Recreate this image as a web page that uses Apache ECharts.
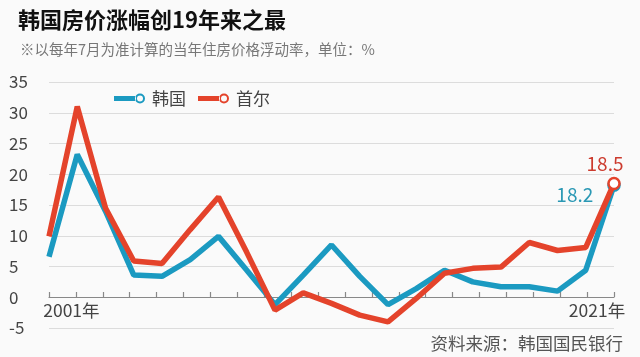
<!DOCTYPE html>
<html>
<head>
<meta charset="utf-8">
<script src="https://cdn.jsdelivr.net/npm/echarts@6/dist/echarts.min.js"></script>
<style>
html,body{margin:0;padding:0;background:#fafafa;}
#chart{width:640px;height:357px;}
</style>
</head>
<body>
<div id="chart"></div>
<script>
var years = ['2001','2002','2003','2004','2005','2006','2007','2008','2009','2010','2011','2012','2013','2014','2015','2016','2017','2018','2019','2020','2021'];
var korea = [6.6, 23.2, 14.0, 3.6, 3.4, 6.1, 9.9, 4.4, -1.2, 3.6, 8.5, 3.4, -1.2, 1.4, 4.4, 2.5, 1.7, 1.7, 1.0, 4.4, 18.2];
var seoul = [9.9, 31.0, 14.5, 5.9, 5.5, 11.0, 16.3, 7.3, -2.1, 0.7, -1.0, -2.9, -4.0, -0.2, 3.9, 4.7, 4.9, 8.9, 7.6, 8.1, 18.5];
var tickLabels = ['', '2001年', '', '', '', '', '', '', '', '', '', '', '', '', '', '', '', '', '', '', '', '2021年'];
var seriesNames = ['韩国', '首尔'];

var BLUE = '#1b9ac1';
var RED = '#e4432b';
var FONT = '"Noto Sans CJK SC", "Noto Sans", sans-serif';

function iconPath() {
  return 'path://M0 2.5 H22 V7.5 H0 Z M31 5 A5 5 0 1 0 21 5 A5 5 0 1 0 31 5 Z M29 5 A3 3 0 1 1 23 5 A3 3 0 1 1 29 5 Z';
}

function buildData(vals, color, labelOpt) {
  var last = vals.length - 1;
  return vals.map(function (v, i) {
    if (i !== last) return v;
    return {
      value: v,
      symbol: 'circle',
      symbolSize: 11,
      itemStyle: { color: '#fff', borderColor: color, borderWidth: 2.5 },
      label: labelOpt
    };
  });
}

var chart = echarts.init(document.getElementById('chart'));
chart.setOption({
  backgroundColor: '#fafafa',
  textStyle: { fontFamily: FONT },
  title: [
    { text: '韩国房价涨幅创19年来之最', left: 13, top: 4,
      textStyle: { fontSize: 22, fontWeight: 'bold', color: '#111', fontFamily: FONT } },
    { text: '※以每年7月为准计算的当年住房价格浮动率，单位：%', left: 15, top: 37,
      textStyle: { fontSize: 14.5, fontWeight: 'normal', color: '#777', fontFamily: FONT } },
    { text: '资料来源：韩国国民银行', right: 12, top: 330,
      textStyle: { fontSize: 17.5, fontWeight: 'normal', color: '#555', fontFamily: FONT } }
  ],
  legend: {
    left: 109, top: 85,
    itemWidth: 31, itemHeight: 10, itemGap: 12,
    textStyle: { fontSize: 17, color: '#444', fontFamily: FONT, padding: [0, 0, 0, 2] },
    data: [
      { name: seriesNames[0], icon: iconPath(), itemStyle: { color: BLUE } },
      { name: seriesNames[1], icon: iconPath(), itemStyle: { color: RED } }
    ]
  },
  grid: [
    { left: 49, right: 26, top: 82, bottom: 29, containLabel: false },
    { left: 49, right: 26, top: 82, bottom: 60, containLabel: false }
  ],
  xAxis: [
    { type: 'category', gridIndex: 0, data: years, boundaryGap: false, show: false },
    { type: 'value', gridIndex: 1, min: 0, max: tickLabels.length - 1, interval: 1, position: 'bottom',
      axisLine: { show: true, onZero: false, lineStyle: { color: '#888', width: 1.2 } },
      axisTick: { show: true, inside: true, length: 5, lineStyle: { color: '#888', width: 1.2 } },
      splitLine: { show: false },
      axisLabel: {
        show: true, margin: 5, color: '#444', fontSize: 17.5, fontFamily: FONT,
        formatter: function (v) {
          var t = tickLabels[Math.round(v)] || '';
          if (!t) return '';
          return Math.round(v) === tickLabels.length - 1 ? '{e|' + t + '}' : '{s|' + t + '}';
        },
        rich: {
          s: { fontSize: 17.5, color: '#444', fontFamily: FONT, padding: [0, 9, 0, 0] },
          e: { fontSize: 17.5, color: '#444', fontFamily: FONT, padding: [0, 34, 0, 0] }
        }
      }
    }
  ],
  yAxis: [
    { type: 'value', gridIndex: 0, min: -5, max: 35, interval: 5,
      axisLine: { show: false }, axisTick: { show: false },
      splitLine: { lineStyle: { color: '#dcdcdc', width: 1.2 } },
      axisLabel: { align: 'left', margin: 40, color: '#444', fontSize: 17, fontFamily: FONT,
        padding: [6, 0, 0, 0] } },
    { type: 'value', gridIndex: 1, min: 0, max: 35, show: false, splitLine: { show: false } }
  ],
  series: [
    { name: seriesNames[0], type: 'line', xAxisIndex: 0, yAxisIndex: 0, symbol: 'none',
      lineStyle: { color: BLUE, width: 5.5 }, itemStyle: { color: BLUE },
      data: buildData(korea, BLUE, { show: true, position: 'left', distance: 14, offset: [0, 9],
        formatter: '{c}', fontSize: 19, color: '#2a98b4', fontFamily: FONT }),
      z: 2 },
    { name: seriesNames[1], type: 'line', xAxisIndex: 0, yAxisIndex: 0, symbol: 'none',
      lineStyle: { color: RED, width: 5.5 }, itemStyle: { color: RED },
      data: buildData(seoul, RED, { show: true, position: 'top', distance: 3, offset: [-9, 0],
        formatter: '{c}', fontSize: 19, color: '#cc3b2e', fontFamily: FONT }),
      z: 3 }
  ]
});
</script>
</body>
</html>
